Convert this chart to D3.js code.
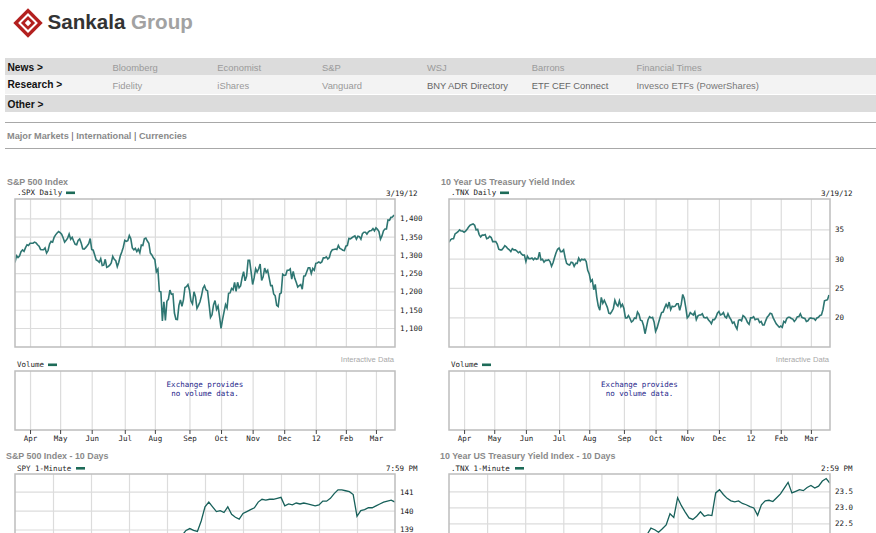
<!DOCTYPE html>
<html><head><meta charset="utf-8">
<script src="https://cdn.jsdelivr.net/npm/d3@7"></script>
<style>
html,body{margin:0;padding:0;background:#fff;}
svg{display:block;}
</style></head><body>
<svg id="c" width="876" height="533"></svg>
<script>
// ---------------- DATA ----------------
const navLabels = ["News >", "Research >", "Other >"];
const newsLinks = ["Bloomberg", "Economist", "S&P", "WSJ", "Barrons", "Financial Times"];
const researchLinks = ["Fidelity", "iShares", "Vanguard", "BNY ADR Directory", "ETF CEF Connect", "Invesco ETFs (PowerShares)"];
const marketTabs = ["Major Markets", "International", "Currencies"];

const chartTitles = ["S&P 500 Index", "10 Year US Treasury Yield Index", "S&P 500 Index - 10 Days", "10 Year US Treasury Yield Index - 10 Days"];
const seriesNames = [".SPX Daily", ".TNX Daily", "SPY 1-Minute", ".TNX 1-Minute"];
const lastStamps = ["3/19/12", "3/19/12", "7:59 PM", "2:59 PM"];

// trading weeks (Mon) and daily closes Mon..Fri (null = market closed)
const weekStarts = ["2011-03-14","2011-03-21","2011-03-28","2011-04-04","2011-04-11","2011-04-18","2011-04-25",
 "2011-05-02","2011-05-09","2011-05-16","2011-05-23","2011-05-30","2011-06-06","2011-06-13","2011-06-20","2011-06-27",
 "2011-07-04","2011-07-11","2011-07-18","2011-07-25","2011-08-01","2011-08-08","2011-08-15","2011-08-22","2011-08-29",
 "2011-09-05","2011-09-12","2011-09-19","2011-09-26","2011-10-03","2011-10-10","2011-10-17","2011-10-24","2011-10-31",
 "2011-11-07","2011-11-14","2011-11-21","2011-11-28","2011-12-05","2011-12-12","2011-12-19","2011-12-26","2012-01-02",
 "2012-01-09","2012-01-16","2012-01-23","2012-01-30","2012-02-06","2012-02-13","2012-02-20","2012-02-27","2012-03-05",
 "2012-03-12","2012-03-19"];

const spxCloses = [
 [null,null,null,null,1279],[1298,1293,1297,1309,1314],[1310,1320,1328,1326,1332],[1332,1332,1335,1333,1328],
 [1324,1315,1314,1314,1319],[1305,1312,1330,1337,null],[1335,1348,1355,1360,1364],[1361,1357,1347,1335,1340],
 [1346,1357,1343,1348,1338],[1329,1328,1340,1344,1333],[1317,1316,1320,1325,1331],[null,1345,1315,1313,1300],
 [1286,1284,1280,1290,1271],[1272,1288,1266,1268,1272],[1278,1296,1288,1284,1268],[1280,1297,1308,1321,1340],
 [null,1337,1339,1353,1344],[1319,1314,1318,1309,1316],[1306,1327,1326,1344,1346],[1338,1332,1305,1300,1292],
 [1287,1254,1261,1200,1199],[1119,1172,1121,1173,1179],[1204,1192,1193,1141,1124],[1123,1162,1177,1159,1177],
 [1211,1213,1219,1204,1174],[null,1166,1199,1186,1154],[1162,1172,1188,1209,1216],[1204,1202,1166,1129,1136],
 [1163,1175,1151,1160,1131],[1099,1123,1144,1164,1155],[1195,1196,1208,1204,1225],[1200,1225,1210,1215,1238],
 [1254,1229,1242,1285,1285],[1253,1219,1237,1262,1253],[1262,1275,1230,1240,1264],[1252,1258,1237,1216,1216],
 [1193,1188,1162,null,1159],[1193,1196,1247,1244,1245],[1258,1258,1262,1234,1255],[1236,1225,1212,1216,1219],
 [1206,1242,1243,1254,1265],[null,1265,1249,1263,1258],[null,1277,1278,1281,1278],[1281,1292,1292,1295,1289],
 [null,1293,1308,1314,1315],[1316,1315,1326,1318,1316],[1313,1312,1324,1326,1345],[1344,1347,1350,1352,1343],
 [1351,1350,1343,1358,1362],[null,1362,1357,1363,1366],[1367,1372,1366,1374,1370],[1364,1343,1352,1366,1371],
 [1371,1396,1395,1403,1404],[1409]];

const tnxCloses = [
 [null,null,null,null,32.8],[33.2,33.4,33.4,34.2,34.4],[34.6,34.9,34.7,34.7,34.5],[34.7,35.0,35.4,35.7,35.8],
 [35.9,35.7,34.9,35.0,34.1],[33.7,34.0,34.0,34.1,null],[33.4,33.5,33.8,33.6,32.9],[32.9,32.9,32.5,31.6,31.5],
 [31.5,31.8,32.2,32.0,31.7],[31.5,31.2,31.7,31.5,31.5],[31.3,31.0,31.2,30.8,30.6],[null,30.6,29.5,30.4,30.0],
 [30.0,30.1,29.8,30.1,29.9],[30.0,31.1,29.8,29.9,29.4],[29.7,29.7,29.8,29.5,28.7],[29.3,30.2,31.0,31.6,31.8],
 [null,31.2,31.2,31.5,30.2],[29.2,29.0,28.9,29.4,29.3],[28.7,29.2,29.2,30.1,29.6],[29.9,29.8,29.9,29.5,28.0],
 [27.4,26.1,26.4,24.7,25.6],[23.4,21.9,21.2,23.4,22.4],[22.9,22.3,21.7,20.7,20.6],[21.0,21.5,22.9,22.2,21.9],
 [22.8,21.8,22.2,21.5,19.9],[null,19.9,20.3,19.8,19.2],[19.4,19.9,19.8,20.9,20.5],[19.5,19.4,18.6,17.2,18.4],
 [19.6,20.1,19.9,20.0,19.2],[17.6,18.2,19.1,20.0,20.8],[20.9,21.6,22.2,21.7,22.6],[21.3,21.9,21.8,21.9,22.3],
 [22.3,21.2,22.2,23.9,23.2],[21.7,19.9,20.2,20.8,20.6],[20.4,20.9,19.6,20.2,20.4],[20.4,20.6,20.0,19.9,20.0],
 [19.6,19.3,18.9,null,19.6],[19.6,20.0,20.7,21.0,20.4],[20.5,20.8,20.1,19.9,20.6],[20.0,19.6,19.0,19.2,18.5],
 [18.0,19.5,19.6,19.4,20.3],[null,20.1,19.7,19.1,18.8],[null,19.9,19.9,20.1,19.6],[19.7,19.7,19.1,19.3,18.7],
 [null,18.7,19.4,20.0,20.3],[20.7,20.6,19.9,19.4,18.9],[18.6,18.3,18.5,18.3,19.3],[19.1,19.8,20.0,20.0,19.8],
 [19.7,19.3,19.6,20.1,20.1],[null,20.6,20.0,19.9,19.8],[19.3,19.4,19.8,19.9,19.8],[19.8,19.5,19.9,20.0,20.3],
 [20.4,21.3,22.8,22.9,23.0],[23.8]];

const monthStarts = ["2011-04-01","2011-05-01","2011-06-01","2011-07-01","2011-08-01","2011-09-01",
 "2011-10-01","2011-11-01","2011-12-01","2012-01-01","2012-02-01","2012-03-01"];
const monthLabels = ["Apr","May","Jun","Jul","Aug","Sep","Oct","Nov","Dec","12","Feb","Mar"];

const spxTicks = [1100,1150,1200,1250,1300,1350,1400];
const tnxTicks = [20,25,30,35];

// 10-day intraday series, sampled every 0.1 trading day
const spy10 = [
 134.4,134.6,134.3,134.5,134.2,134.4,134.6,134.3,134.5,134.6,
 135.2,135.5,135.7,135.6,135.8,135.7,135.9,135.8,135.7,135.8,
 136.4,136.7,136.8,136.6,136.9,137.0,136.9,137.1,137.0,137.1,
 137.5,137.7,137.6,137.8,137.6,137.7,137.5,137.6,137.7,137.6,
 137.5,137.7,137.9,138.3,138.7,138.95,139.05,138.95,138.9,139.45,
 140.2,140.45,140.2,139.95,140.0,139.9,140.2,139.8,139.65,139.55,
 139.85,139.95,140.05,140.15,140.45,140.6,140.55,140.6,140.6,140.65,
 140.7,140.25,140.35,140.3,140.4,140.35,140.4,140.35,140.3,140.25,
 140.3,140.5,140.5,140.65,140.9,141.1,141.1,141.05,141.0,140.85,
 139.7,140.0,140.05,140.15,140.15,140.25,140.35,140.45,140.5,140.55,
 140.45];
const tnx10 = [
 19.6,19.7,19.8,19.7,19.9,20.0,19.9,20.1,20.0,20.1,
 20.0,20.2,20.1,20.3,20.2,20.4,20.3,20.2,20.4,20.3,
 20.4,20.5,20.6,20.5,20.7,20.6,20.8,20.7,20.9,20.8,
 21.0,20.9,21.1,21.0,21.2,21.1,21.3,21.2,21.4,21.3,
 21.3,21.5,21.4,21.6,21.5,21.7,21.6,21.8,21.7,21.9,
 21.9,22.0,22.15,22.35,22.3,22.22,22.33,22.45,22.8,22.68,
 23.3,23.05,22.85,22.67,22.62,22.72,22.86,22.72,22.76,22.74,
 23.45,23.55,23.4,23.28,23.2,23.17,23.2,23.12,23.08,23.02,
 22.98,22.75,23.08,23.2,23.22,23.18,23.3,23.42,23.6,23.78,
 23.45,23.5,23.55,23.52,23.62,23.68,23.6,23.66,23.82,23.9,
 23.75];
const spy10Ticks = [139,140,141];
const tnx10Ticks = [22.5,23.0,23.5];
const tenDays = 10;

// ---------------- DRAW ----------------
const svg = d3.select("#c");
const SANS = "'Liberation Sans', Arial, sans-serif";
const MONO = "'DejaVu Sans Mono', monospace";
const defs = svg.append("defs");

// logo
const logo = svg.append("g").attr("transform", "translate(28,23)");
[[14.7,"#b3201f"],[9.9,"#fff"],[7.1,"#b3201f"],[3.2,"#fff"]].forEach(([r,c]) => {
  logo.append("path").attr("d", `M0,${-r}L${r},0L0,${r}L${-r},0Z`).attr("fill", c);
});
const lt = svg.append("text").attr("x", 47.5).attr("y", 28.5).attr("font-family", SANS)
  .attr("font-weight", "bold").attr("font-size", 20.6);
lt.append("tspan").attr("fill", "#333").text("Sankala");
lt.append("tspan").attr("fill", "#a2a2a2").text(" Group");

// navigation
const rows = [{y:58,h:17,bg:"#dcdcdc"},{y:75,h:19,bg:"#f3f3f3"},{y:95,h:17,bg:"#dcdcdc"}];
rows.forEach((r,i) => {
  svg.append("rect").attr("x",5).attr("y",r.y).attr("width",871).attr("height",r.h).attr("fill",r.bg);
  svg.append("text").attr("x",7.5).attr("y",r.y+13).attr("font-family",SANS).attr("font-weight","bold")
    .attr("font-size",10.2).attr("fill","#111").text(navLabels[i]);
});
const linkColsX = i => 112.5 + i*104.8;
newsLinks.forEach((t,i) => svg.append("text").attr("x",linkColsX(i)).attr("y",71).attr("font-family",SANS)
  .attr("font-size",9.4).attr("fill","#9a9a9a").text(t));
researchLinks.forEach((t,i) => svg.append("text").attr("x",linkColsX(i)).attr("y",89).attr("font-family",SANS)
  .attr("font-size",9.4).attr("fill", i<3 ? "#999" : (i<5 ? "#666" : "#777")).text(t));

// market tabs
svg.append("line").attr("x1",5).attr("x2",876).attr("y1",122.5).attr("y2",122.5).attr("stroke","#a8a8a8").attr("stroke-width",1.2);
svg.append("line").attr("x1",5).attr("x2",876).attr("y1",148.5).attr("y2",148.5).attr("stroke","#a8a8a8").attr("stroke-width",1.2);
const mt = svg.append("text").attr("x",7).attr("y",139).attr("font-family",SANS).attr("font-size",9.2);
marketTabs.forEach((t,i) => {
  if (i>0) mt.append("tspan").attr("fill","#555").text(" | ");
  mt.append("tspan").attr("fill","#8a8a8a").attr("font-weight","bold").text(t);
});

// ---- helpers ----
const parse = d3.utcParse("%Y-%m-%d");
function buildDaily(closes){
  const out = [];
  weekStarts.forEach((w,i) => {
    const m = parse(w);
    closes[i].forEach((v,j) => { if (v != null) out.push({date: d3.utcDay.offset(m, j), v}); });
  });
  return out;
}
let clipId = 0;
function frame(g, x0, y0, x1, y1){
  g.append("rect").attr("x",x0).attr("y",y0).attr("width",x1-x0).attr("height",y1-y0)
   .attr("fill","none").attr("stroke","#bdbdbd").attr("stroke-width",1.5);
}
function clip(x0,y0,x1,y1){
  const id = "clip"+(clipId++);
  defs.append("clipPath").attr("id",id).append("rect").attr("x",x0).attr("y",y0).attr("width",x1-x0).attr("height",y1-y0);
  return `url(#${id})`;
}
function legend(g, x, y, label, swX){
  g.append("text").attr("x",x).attr("y",y).attr("font-family",MONO).attr("font-size",7.5).attr("fill","#222").text(label);
  g.append("rect").attr("x",swX).attr("y",y-3.5).attr("width",9).attr("height",2.6).attr("fill","#1d6b58");
}
function stamp(g, xr, y, t){
  g.append("text").attr("x",xr).attr("y",y).attr("text-anchor","end").attr("font-family",MONO)
   .attr("font-size",7.5).attr("fill","#222").text(t);
}
function title(g, x, y, t){
  g.append("text").attr("x",x).attr("y",y).attr("font-family",SANS).attr("font-weight","bold")
   .attr("font-size",8.9).attr("fill","#8a8a8a").text(t);
}
function styleAxisText(sel){
  sel.selectAll("text").attr("font-family",MONO).attr("font-size",7.5).attr("fill","#222");
}

// ---- daily charts ----
function dailyChart(opts){
  const {X0, X1, data, ticks, yRange, fmt, k} = opts;
  const g = svg.append("g");
  const PT = 199, PB = 347, VT = 371, VB = 430;
  title(g, X0-8, 185, chartTitles[k]);
  legend(g, X0+2, 195, seriesNames[k], X0+51);
  stamp(g, X1+22.5, 196, lastStamps[k]);

  const x = d3.scaleLinear().domain([0, data.length-1]).range([X0, X1-1]);
  const y = d3.scaleLinear().domain([ticks[0], ticks[ticks.length-1]]).range(yRange);
  const monthIdx = monthStarts.map(m => d3.bisector(d => d.date).left(data, parse(m)));

  g.append("g").attr("transform",`translate(0,${PB})`)
    .call(d3.axisBottom(x).tickValues(monthIdx).tickSize(-(PB-PT)).tickFormat(""))
    .call(a => a.select(".domain").remove())
    .call(a => a.selectAll("line").attr("stroke","#dcdcdc").attr("stroke-width",1.2));
  g.append("g").attr("transform",`translate(${X0},0)`)
    .call(d3.axisLeft(y).tickValues(ticks).tickSize(-(X1-X0)).tickFormat(""))
    .call(a => a.select(".domain").remove())
    .call(a => a.selectAll("line").attr("stroke","#dcdcdc").attr("stroke-width",1.2));
  g.append("path").datum(data).attr("clip-path", clip(X0,PT,X1,PB))
    .attr("d", d3.line().x((d,i)=>x(i)).y(d=>y(d.v)))
    .attr("fill","none").attr("stroke","#2e7672").attr("stroke-width",1.6).attr("stroke-linejoin","miter");
  frame(g, X0, PT, X1, PB);
  g.append("g").attr("transform",`translate(${X1},0)`)
    .call(d3.axisRight(y).tickValues(ticks).tickSize(0).tickPadding(5).tickFormat(fmt))
    .call(a => a.select(".domain").remove())
    .call(styleAxisText);

  g.append("text").attr("x",X0+2).attr("y",367).attr("font-family",MONO).attr("font-size",7.5).attr("fill","#222").text("Volume");
  g.append("rect").attr("x",X0+33).attr("y",363.5).attr("width",9).attr("height",2.6).attr("fill","#1d6b58");
  g.append("text").attr("x",X1-1).attr("y",362).attr("text-anchor","end").attr("font-family",SANS)
    .attr("font-size",7.6).attr("fill","#a8a8a8").text("Interactive Data");
  g.append("g").attr("transform",`translate(0,${VB})`)
    .call(d3.axisBottom(x).tickValues(monthIdx).tickSize(-(VB-VT)).tickFormat(""))
    .call(a => a.select(".domain").remove())
    .call(a => a.selectAll("line").attr("stroke","#dcdcdc").attr("stroke-width",1.2));
  frame(g, X0, VT, X1, VB);
  g.append("g").attr("transform",`translate(0,${VB})`)
    .call(d3.axisBottom(x).tickValues(monthIdx).tickSize(4).tickPadding(2).tickFormat((d,i)=>monthLabels[i]))
    .call(a => a.select(".domain").remove())
    .call(a => a.selectAll("line").attr("stroke","#444"))
    .call(styleAxisText);
  const cx = (X0+X1)/2;
  g.append("text").attr("x",cx).attr("y",386.5).attr("text-anchor","middle").attr("font-family",MONO)
    .attr("font-size",7.5).attr("fill","#25258a").text("Exchange provides");
  g.append("text").attr("x",cx).attr("y",395.5).attr("text-anchor","middle").attr("font-family",MONO)
    .attr("font-size",7.5).attr("fill","#25258a").text("no volume data.");
}

dailyChart({X0:15, X1:395, data:buildDaily(spxCloses), ticks:spxTicks, yRange:[328,218.4], fmt:d3.format(","), k:0});
dailyChart({X0:449, X1:830, data:buildDaily(tnxCloses), ticks:tnxTicks, yRange:[317.3,229.3], fmt:d3.format("d"), k:1});

// ---- 10-day intraday charts ----
function intradayChart(opts){
  const {X0, X1, values, ticks, yRange, fmt, k, legendSw} = opts;
  const g = svg.append("g");
  const PT = 474, PB = 640;
  title(g, X0-9, 459, chartTitles[k]);
  legend(g, X0+2, 470.5, seriesNames[k], legendSw);
  stamp(g, X1+22.5, 471, lastStamps[k]);
  const x = d3.scaleLinear().domain([0, values.length-1]).range([X0, X1]);
  const xd = d3.scaleLinear().domain([0, tenDays]).range([X0, X1]);
  const y = d3.scaleLinear().domain([ticks[0], ticks[ticks.length-1]]).range(yRange);
  g.append("g").attr("transform",`translate(0,${PB})`)
    .call(d3.axisBottom(xd).tickValues(d3.range(1, tenDays)).tickSize(-(PB-PT)).tickFormat(""))
    .call(a => a.select(".domain").remove())
    .call(a => a.selectAll("line").attr("stroke","#dcdcdc").attr("stroke-width",1.2));
  g.append("g").attr("transform",`translate(${X0},0)`)
    .call(d3.axisLeft(y).tickValues(ticks).tickSize(-(X1-X0)).tickFormat(""))
    .call(a => a.select(".domain").remove())
    .call(a => a.selectAll("line").attr("stroke","#dcdcdc").attr("stroke-width",1.2));
  g.append("path").datum(values).attr("clip-path", clip(X0,PT,X1,PB))
    .attr("d", d3.line().x((d,i)=>x(i)).y(d=>y(d)))
    .attr("fill","none").attr("stroke","#17605a").attr("stroke-width",1.3);
  frame(g, X0, PT, X1, PB);
  g.append("g").attr("transform",`translate(${X1},0)`)
    .call(d3.axisRight(y).tickValues(ticks).tickSize(0).tickPadding(5).tickFormat(fmt))
    .call(a => a.select(".domain").remove())
    .call(styleAxisText);
}
intradayChart({X0:15, X1:395, values:spy10, ticks:spy10Ticks, yRange:[529.5,491.7], fmt:d3.format("d"), k:2, legendSw:76});
intradayChart({X0:449, X1:830, values:tnx10, ticks:tnx10Ticks, yRange:[523.3,491.3], fmt:d3.format(".1f"), k:3, legendSw:515});
</script>
</body></html>
